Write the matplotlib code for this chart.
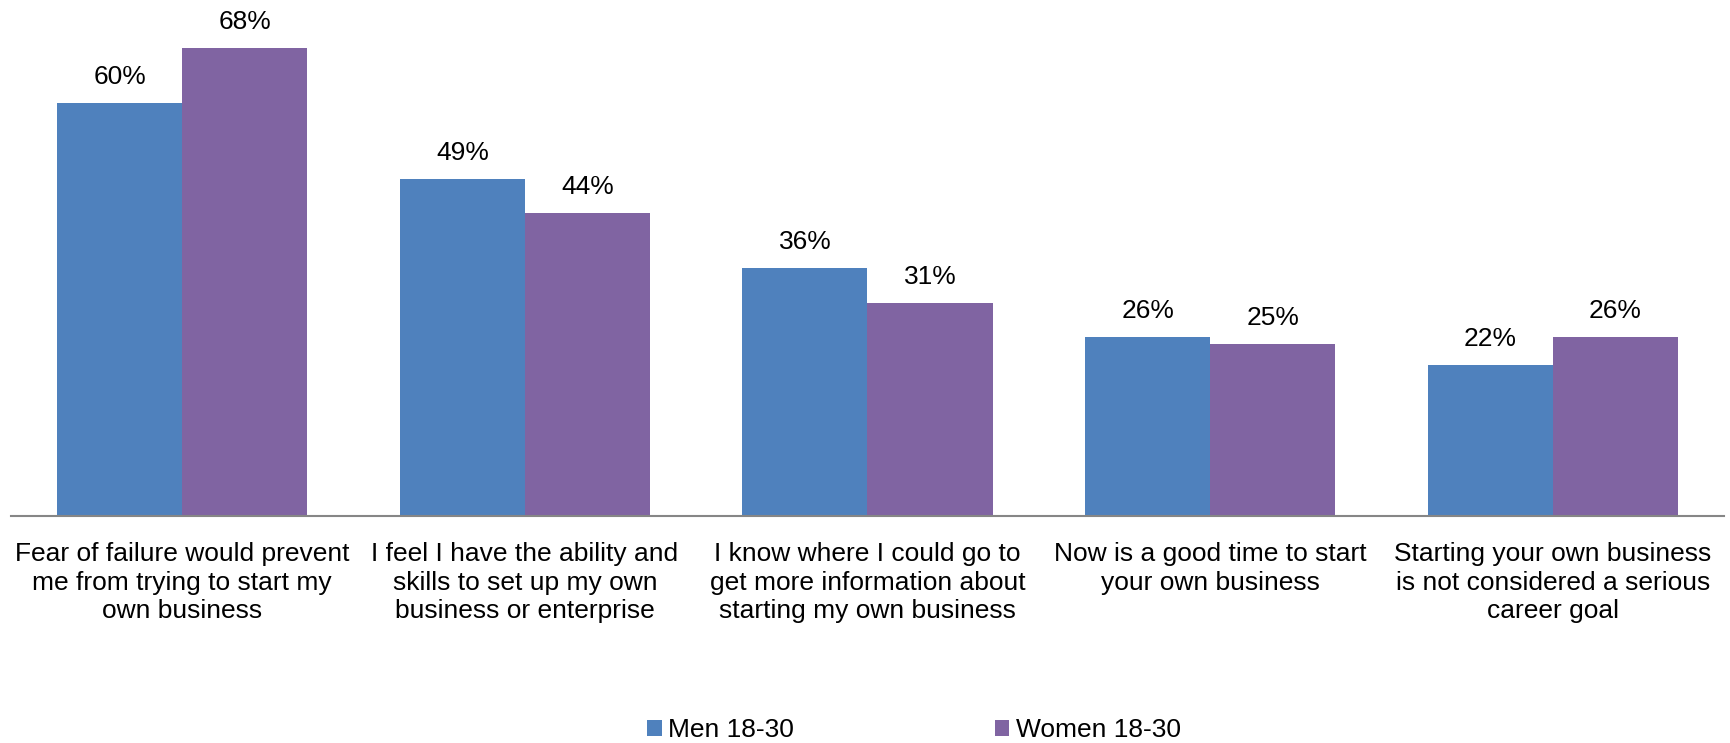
import matplotlib
matplotlib.use('Agg')
import matplotlib.pyplot as plt
import numpy as np

plt.rcParams['font.family'] = ['Liberation Sans', 'DejaVu Sans']

# 데이터
categories = [
    'Fear of failure would prevent\nme from trying to start my\nown business',
    'I feel I have the ability and\nskills to set up my own\nbusiness or enterprise',
    'I know where I could go to\nget more information about\nstarting my own business',
    'Now is a good time to start\nyour own business',
    'Starting your own business\nis not considered a serious\ncareer goal',
]
men = [60, 49, 36, 26, 22]
women = [68, 44, 31, 25, 26]
series_names = ['Men 18-30', 'Women 18-30']
colors = ['#4F81BD', '#8064A2']

fig = plt.figure(figsize=(17.31, 7.43), dpi=100)
ax = fig.add_axes([11 / 1731, 227 / 743, 1713 / 1731, 516 / 743])

x = np.arange(len(categories))
w = 0.365
b1 = ax.bar(x - w / 2, men, w, color=colors[0], label=series_names[0])
b2 = ax.bar(x + w / 2, women, w, color=colors[1], label=series_names[1])

# 막대 위 값 표시
for bars, vals in [(b1, men), (b2, women)]:
    for r, v in zip(bars, vals):
        ax.annotate(f'{v}%', (r.get_x() + r.get_width() / 2, v),
                    xytext=(0, 10), textcoords='offset points',
                    ha='center', va='bottom', fontsize=19)

ax.set_xlim(-0.5, len(categories) - 0.5)
ax.set_ylim(0, 75)
ax.set_xticks(x)
ax.set_xticklabels(categories, fontsize=19, linespacing=1.22)
ax.tick_params(axis='x', length=0, pad=19)
ax.set_yticks([])
for s in ['top', 'right', 'left']:
    ax.spines[s].set_visible(False)
ax.spines['bottom'].set_color('#868686')
ax.spines['bottom'].set_linewidth(1.5)

fig.legend(loc='center', bbox_to_anchor=(0.528, 13 / 743), ncol=2, frameon=False,
           fontsize=19, handlelength=0.55, handleheight=0.55, handletextpad=0.25,
           columnspacing=7.6)

fig.savefig('out.png', dpi=100)
